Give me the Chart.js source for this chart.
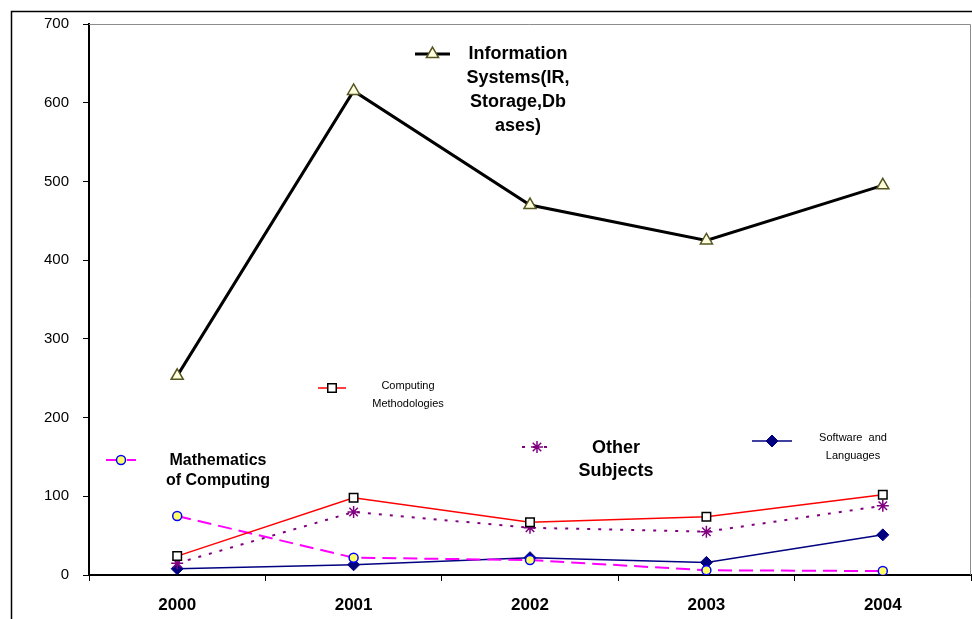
<!DOCTYPE html>
<html>
<head>
<meta charset="utf-8">
<script src="https://cdn.jsdelivr.net/npm/chart.js@4"></script>
<style>
  html, body { margin: 0; padding: 0; background: #fff; }
  #wrap { width: 972px; height: 619px; position: relative; }
</style>
</head>
<body>
<div id="wrap"><canvas id="myChart" width="972" height="619"></canvas></div>
<script>
// data
var years = ["2000", "2001", "2002", "2003", "2004"];
var infoSystems = [253, 615, 470, 425, 495];
var computingMeth = [24, 98, 67, 74, 102];
var otherSubjects = [15, 80, 60, 55, 88];
var mathComputing = [75, 22, 19, 6, 5];
var softwareLang = [8, 13, 22, 16, 51];
var yTicks = [0, 100, 200, 300, 400, 500, 600, 700];

// legend labels placed inside the plot, like the original
var legendSpots = [
  { ds: 0, x1: 415, x2: 450, y: 54, tx: 518, ty: 54, lh: 24, font: "bold 18px 'Liberation Sans', Arial, sans-serif",
    lines: ["Information", "Systems(IR,", "Storage,Db", "ases)"] },
  { ds: 1, x1: 318, x2: 346, y: 388, tx: 408, ty: 386, lh: 18, font: "11px 'Liberation Sans', Arial, sans-serif",
    lines: ["Computing", "Methodologies"] },
  { ds: 2, x1: 522, x2: 552, y: 447, tx: 616, ty: 448, lh: 23, font: "bold 18px 'Liberation Sans', Arial, sans-serif",
    lines: ["Other", "Subjects"] },
  { ds: 3, x1: 106, x2: 136, y: 460, tx: 218, ty: 461, lh: 20, font: "bold 16px 'Liberation Sans', Arial, sans-serif",
    lines: ["Mathematics", "of Computing"] },
  { ds: 4, x1: 752, x2: 792, y: 441, tx: 853, ty: 438, lh: 18, font: "11px 'Liberation Sans', Arial, sans-serif",
    lines: ["Software  and", "Languages"] }
];

var framePlugin = {
  id: "frame",
  beforeDraw: function (chart) {
    var c = chart.ctx;
    c.save();
    c.strokeStyle = "#000";
    c.lineWidth = 1.5;
    c.beginPath();
    c.moveTo(11.5, 619);
    c.lineTo(11.5, 11.5);
    c.lineTo(972, 11.5);
    c.stroke();
    c.restore();
  },
  afterDraw: function (chart) {
    var c = chart.ctx;
    var a = chart.chartArea;
    c.save();
    // grey plot border, top and right
    c.strokeStyle = "#8c8c8c";
    c.lineWidth = 1;
    c.beginPath();
    c.moveTo(a.left, a.top + 0.5);
    c.lineTo(a.right - 0.5, a.top + 0.5);
    c.lineTo(a.right - 0.5, a.bottom);
    c.stroke();

    // scattered legend entries
    legendSpots.forEach(function (s) {
      var d = chart.data.datasets[s.ds];
      c.strokeStyle = d.borderColor;
      c.lineWidth = d.borderWidth;
      c.setLineDash(d.borderDash || []);
      c.beginPath();
      c.moveTo(s.x1, s.y);
      c.lineTo(s.x2, s.y);
      c.stroke();
      c.setLineDash([]);
      c.fillStyle = d.pointBackgroundColor;
      c.strokeStyle = d.pointBorderColor;
      c.lineWidth = d.pointBorderWidth;
      Chart.helpers.drawPoint(c, { pointStyle: d.pointStyle, radius: d.pointRadius, rotation: 0, borderWidth: d.pointBorderWidth },
        (s.x1 + s.x2) / 2, s.y);
      c.fillStyle = "#000";
      c.font = s.font;
      c.textAlign = "center";
      c.textBaseline = "middle";
      s.lines.forEach(function (t, i) {
        c.fillText(t, s.tx, s.ty + i * s.lh);
      });
    });
    c.restore();
  }
};

var ctx = document.getElementById("myChart").getContext("2d");
var chart = new Chart(ctx, {
  type: "line",
  data: {
    labels: years,
    datasets: [
      {
        label: "Information Systems(IR, Storage,Dbases)",
        data: infoSystems,
        borderColor: "#000000",
        borderWidth: 3,
        pointStyle: "triangle",
        pointRadius: 7,
        pointBorderWidth: 1.5,
        pointBorderColor: "#555522",
        pointBackgroundColor: "#ffffdd",
        tension: 0,
        order: 0
      },
      {
        label: "Computing Methodologies",
        data: computingMeth,
        borderColor: "#ff0000",
        borderWidth: 1.5,
        pointStyle: "rect",
        pointRadius: 6,
        pointBorderWidth: 1.5,
        pointBorderColor: "#000000",
        pointBackgroundColor: "#ffffff",
        tension: 0,
        order: 1
      },
      {
        label: "Other Subjects",
        data: otherSubjects,
        borderColor: "#800080",
        borderWidth: 2,
        borderDash: [3, 8],
        pointStyle: "star",
        pointRadius: 6,
        pointBorderWidth: 1.5,
        pointBorderColor: "#800080",
        pointBackgroundColor: "#800080",
        tension: 0,
        order: 2
      },
      {
        label: "Mathematics of Computing",
        data: mathComputing,
        borderColor: "#ff00ff",
        borderWidth: 2,
        borderDash: [14, 7],
        pointStyle: "circle",
        pointRadius: 4.5,
        pointBorderWidth: 1.5,
        pointBorderColor: "#0000ff",
        pointBackgroundColor: "#ffff66",
        tension: 0,
        order: 3
      },
      {
        label: "Software and Languages",
        data: softwareLang,
        borderColor: "#000080",
        borderWidth: 1.5,
        pointStyle: "rectRot",
        pointRadius: 6,
        pointBorderWidth: 1,
        pointBorderColor: "#000080",
        pointBackgroundColor: "#000080",
        tension: 0,
        order: 4
      }
    ]
  },
  options: {
    responsive: false,
    animation: false,
    layout: { autoPadding: false, padding: { top: 24, right: 1, left: 0, bottom: 0 } },
    plugins: {
      legend: { display: false },
      tooltip: { enabled: false }
    },
    scales: {
      x: {
        offset: true,
        grid: { offset: true, drawOnChartArea: false, color: "#000", tickLength: 6, tickColor: "#000" },
        border: { color: "#000", width: 2 },
        ticks: { color: "#000", font: { family: "'Liberation Sans', Arial, sans-serif", size: 17, weight: "bold" }, padding: 14 },
        afterFit: function (s) { s.height = 44; s.paddingLeft = 0; s.paddingRight = 0; }
      },
      y: {
        min: 0,
        max: 700,
        afterBuildTicks: function (s) { s.ticks = yTicks.map(function (v) { return { value: v }; }); },
        grid: { drawOnChartArea: false, color: "#000", tickLength: 6, tickColor: "#000" },
        border: { color: "#000", width: 2 },
        ticks: { color: "#000", font: { family: "'Liberation Sans', Arial, sans-serif", size: 15 }, padding: 14 },
        afterFit: function (s) { s.width = 89; s.paddingTop = 0; s.paddingBottom = 0; }
      }
    }
  },
  plugins: [framePlugin]
});
</script>
</body>
</html>
